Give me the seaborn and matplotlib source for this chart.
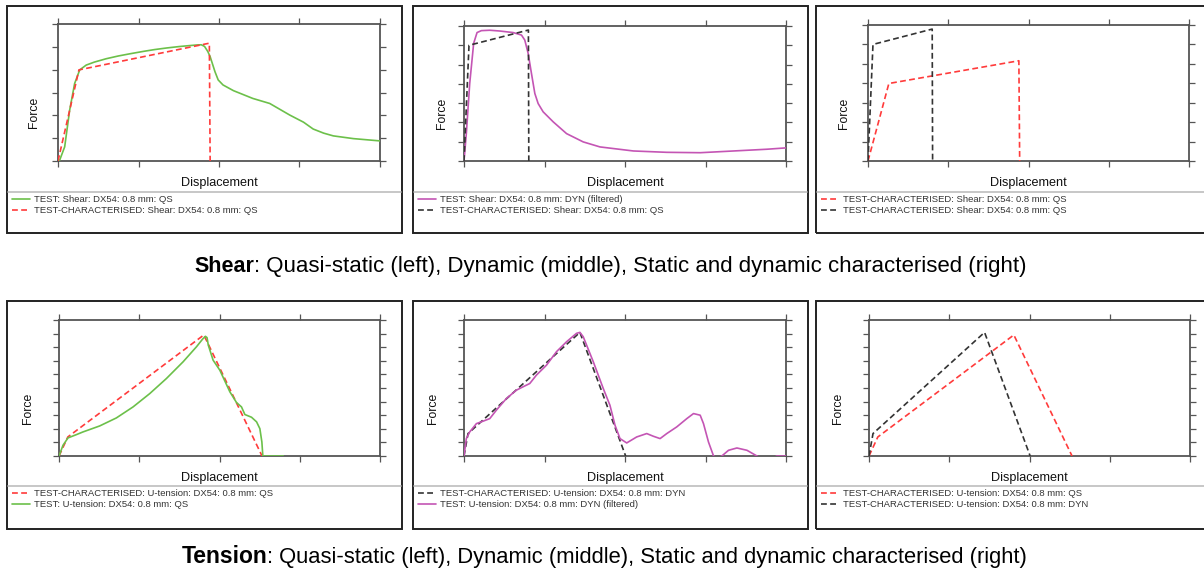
import matplotlib
matplotlib.use("Agg")
import numpy as np
import pandas as pd
import matplotlib.pyplot as plt
from matplotlib.patches import Rectangle
from matplotlib.lines import Line2D
import seaborn as sns

sns.set_theme(style="white")
plt.rcParams["font.family"] = ["Liberation Sans", "DejaVu Sans"]

W, H = 1204, 571

GREEN = "#6cc04a"
RED = "#ff3b3b"
MAGENTA = "#c455b4"
BLACK = "#333333"

# ---- shear data (normalised displacement 0..4, force in tick units) ----
shear_qs_test_x = [0, 0.02, 0.083, 0.145, 0.207, 0.27, 0.35, 0.45, 0.60, 0.75, 0.90, 1.06, 1.20,
                   1.35, 1.50, 1.62, 1.72, 1.78, 1.82, 1.86, 1.89, 1.95, 1.99, 2.05, 2.18, 2.42,
                   2.63, 2.88, 3.05, 3.17, 3.30, 3.42, 3.67, 4.0]
shear_qs_test_y = [0, 0.03, 0.62, 2.23, 3.40, 3.99, 4.20, 4.33, 4.48, 4.60, 4.70, 4.80, 4.88,
                   4.95, 5.01, 5.05, 5.08, 5.09, 5.02, 4.80, 4.57, 3.91, 3.55, 3.33, 3.08, 2.74,
                   2.52, 2.01, 1.70, 1.40, 1.22, 1.10, 0.98, 0.88]
shear_qs_char_x = [0, 0.26, 1.88, 1.89]
shear_qs_char_y = [0, 3.99, 5.16, 0]

shear_dyn_test_x = [0, 0.029, 0.071, 0.12, 0.162, 0.216, 0.32, 0.444, 0.61, 0.714, 0.755, 0.797,
                    0.838, 0.88, 0.921, 0.983, 1.108, 1.274, 1.481, 1.689, 2.104, 2.519, 2.934,
                    3.349, 3.763, 4.0]
shear_dyn_test_y = [0, 1.42, 4.02, 6.10, 6.66, 6.76, 6.78, 6.74, 6.66, 6.53, 6.27, 5.58,
                    4.54, 3.50, 2.98, 2.55, 2.03, 1.42, 0.99, 0.73, 0.52, 0.45, 0.43,
                    0.52, 0.61, 0.68]
shear_dyn_char_x = [0, 0.062, 0.80, 0.805]
shear_dyn_char_y = [0, 6.0, 6.79, 0]

# ---- tension data ----
tens_qs_test_x = [0, 0.05, 0.112, 0.216, 0.299, 0.507, 0.715, 0.923, 1.131, 1.339, 1.547, 1.713,
                  1.79, 1.825, 1.845, 1.86, 1.92, 2.004, 2.129, 2.212, 2.274, 2.316, 2.399,
                  2.462, 2.503, 2.528, 2.54, 2.794]
tens_qs_test_y = [0, 0.79, 1.33, 1.57, 1.77, 2.21, 2.80, 3.61, 4.59, 5.70, 6.93, 8.03,
                  8.60, 8.80, 8.70, 8.16, 7.05, 6.31, 4.72, 3.93, 3.61, 3.05, 2.85,
                  2.51, 2.01, 1.03, 0, 0]
tens_qs_char_x = [0, 0.11, 1.805, 2.53]
tens_qs_char_y = [0, 1.40, 8.9, 0]

tens_dyn_test_x = [0, 0.029, 0.071, 0.154, 0.237, 0.320, 0.402, 0.527, 0.651, 0.734, 0.817, 0.900,
                   1.025, 1.149, 1.274, 1.398, 1.440, 1.481, 1.606, 1.730, 1.813, 1.876, 1.938,
                   2.021, 2.145, 2.270, 2.353, 2.436, 2.519, 2.643, 2.768, 2.851, 2.934, 2.975,
                   3.037, 3.100, 3.15, 3.203, 3.286, 3.390, 3.515, 3.639, 3.70, 3.85, 3.888, 4.0]
tens_dyn_test_y = [0, 1.28, 1.77, 2.38, 2.56, 2.75, 3.37, 4.23, 4.84, 5.09, 5.33, 5.95,
                   6.68, 7.67, 8.40, 9.02, 9.09, 8.77, 6.93, 4.96, 3.73, 2.26, 1.28,
                   0.96, 1.40, 1.65, 1.45, 1.28, 1.65, 2.14, 2.75, 3.12, 3.00, 2.38,
                   1.03, 0, -0.15, 0, 0.42, 0.59, 0.42, 0, -0.2, -0.1, 0, 0]
tens_dyn_char_x = [0, 0.05, 1.44, 2.008]
tens_dyn_char_y = [0, 1.65, 9.09, 0]

x_ticks = [0, 1, 2, 3, 4]

fig = plt.figure(figsize=(W / 100, H / 100), dpi=100)


def fx(px):
    return px / W


def fy(py):
    return 1 - py / H


def draw_panel(box, axbox, ytop, series, ylab_x, sep_y):
    l, t, r, b = box
    fig.patches.append(Rectangle((fx(l), fy(b)), (r - l) / W, (b - t) / H,
                                 transform=fig.transFigure, fill=False,
                                 ec="#222222", lw=1.4))
    fig.lines.append(Line2D([fx(l + 1), fx(r - 1)], [fy(sep_y), fy(sep_y)],
                            transform=fig.transFigure, color="#bdbdbd", lw=1.2))
    al, at, ar, ab = axbox
    ax = fig.add_axes([fx(al), fy(ab), (ar - al) / W, (ab - at) / H])
    for label, xs, ys, color, dashed in series:
        df = pd.DataFrame({"x": xs, "y": ys})
        sns.lineplot(data=df, x="x", y="y", ax=ax, color=color, lw=1.2,
                     linestyle=(0, (3.5, 2)) if dashed else "-",
                     sort=False, estimator=None, label=label, zorder=3)
    ax.set_xlim(0, 4)
    ax.set_ylim(0, ytop)
    ax.set_xticks(x_ticks)
    ax.set_yticks(range(ytop + 1))
    ax.tick_params(direction="out", top=True, right=True, bottom=True, left=True,
                   labelbottom=False, labelleft=False, length=4, width=0.9,
                   color="#555555")
    for sp in ax.spines.values():
        sp.set_color("#555555")
        sp.set_linewidth(1.3)
    ax.set_xlabel("")
    ax.set_ylabel("")
    fig.text(fx((al + ar) / 2), fy(ab + 22), "Displacement", ha="center", va="center",
             fontsize=9.1, color="#111111")
    fig.text(fx(ylab_x), fy((at + ab) / 2 + 20), "Force", rotation=90, ha="center",
             va="center", fontsize=8.8, color="#111111")
    handles, labels = ax.get_legend_handles_labels()
    ax.legend(handles, labels, loc="upper left", bbox_to_anchor=(fx(l + 5), fy(sep_y + 3)),
              bbox_transform=fig.transFigure, frameon=False, fontsize=6.8,
              handlelength=1.9, handletextpad=0.4, labelspacing=0.2,
              borderpad=0, borderaxespad=0, labelcolor="#333333")
    return ax


# top row: shear
draw_panel((7, 6, 402, 233), (58, 24, 380, 161), 6,
           [("TEST: Shear: DX54: 0.8 mm: QS", shear_qs_test_x, shear_qs_test_y, GREEN, False),
            ("TEST-CHARACTERISED: Shear: DX54: 0.8 mm: QS", shear_qs_char_x, shear_qs_char_y, RED, True)],
           34, 192)
draw_panel((413, 6, 808, 233), (464, 26, 786, 161), 7,
           [("TEST: Shear: DX54: 0.8 mm: DYN (filtered)", shear_dyn_test_x, shear_dyn_test_y, MAGENTA, False),
            ("TEST-CHARACTERISED: Shear: DX54: 0.8 mm: QS", shear_dyn_char_x, shear_dyn_char_y, BLACK, True)],
           442, 192)
draw_panel((816, 6, 1207, 233), (868, 25, 1189, 161), 7,
           [("TEST-CHARACTERISED: Shear: DX54: 0.8 mm: QS", shear_qs_char_x, shear_qs_char_y, RED, True),
            ("TEST-CHARACTERISED: Shear: DX54: 0.8 mm: QS", shear_dyn_char_x, shear_dyn_char_y, BLACK, True)],
           844, 192)

# bottom row: tension
draw_panel((7, 301, 402, 529), (59, 320, 380, 456), 10,
           [("TEST-CHARACTERISED: U-tension: DX54: 0.8 mm: QS", tens_qs_char_x, tens_qs_char_y, RED, True),
            ("TEST: U-tension: DX54: 0.8 mm: QS", tens_qs_test_x, tens_qs_test_y, GREEN, False)],
           28, 486)
draw_panel((413, 301, 808, 529), (464, 320, 786, 456), 10,
           [("TEST-CHARACTERISED: U-tension: DX54: 0.8 mm: DYN", tens_dyn_char_x, tens_dyn_char_y, BLACK, True),
            ("TEST: U-tension: DX54: 0.8 mm: DYN (filtered)", tens_dyn_test_x, tens_dyn_test_y, MAGENTA, False)],
           433, 486)
draw_panel((816, 301, 1207, 529), (869, 320, 1190, 456), 10,
           [("TEST-CHARACTERISED: U-tension: DX54: 0.8 mm: QS", tens_qs_char_x, tens_qs_char_y, RED, True),
            ("TEST-CHARACTERISED: U-tension: DX54: 0.8 mm: DYN", tens_dyn_char_x, tens_dyn_char_y, BLACK, True)],
           838, 486)

# captions: bold keyword followed by plain description, sharing a baseline
CAP_REST = ": Quasi-static (left), Dynamic (middle), Static and dynamic characterised (right)"
fig.text(fx(254), fy(272), "Shear", ha="right", va="baseline", fontsize=15.5,
         fontweight="bold", color="black")
fig.text(fx(254), fy(272), CAP_REST, ha="left", va="baseline", fontsize=16, color="black")
fig.text(fx(267), fy(563), "Tension", ha="right", va="baseline", fontsize=16.5,
         fontweight="bold", color="black")
fig.text(fx(267), fy(563), CAP_REST, ha="left", va="baseline", fontsize=15.8, color="black")

fig.savefig("out.png", dpi=100, facecolor="white")
